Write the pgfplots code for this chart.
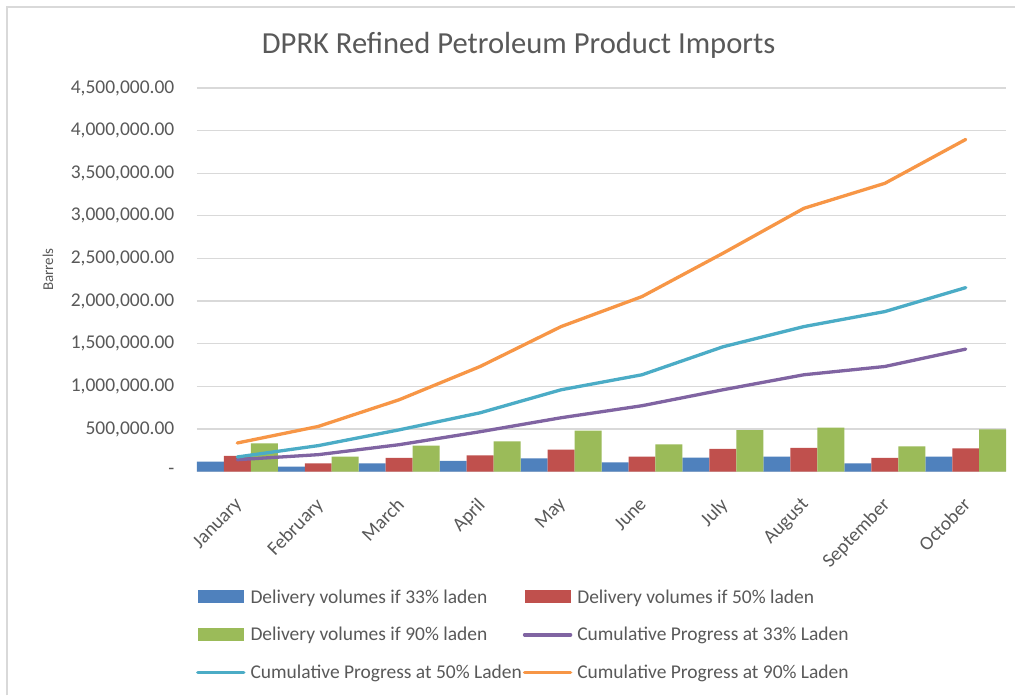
\documentclass[border=0pt]{standalone}
\usepackage{pgfplots}
\pgfplotsset{compat=1.18}
\usepackage{fontspec}
\setmainfont{Carlito}
\definecolor{cblue}{HTML}{4F81BD}
\definecolor{cred}{HTML}{C0504D}
\definecolor{cgreen}{HTML}{9BBB59}
\definecolor{cpurple}{HTML}{8064A2}
\definecolor{ccyan}{HTML}{4BACC6}
\definecolor{corange}{HTML}{F79646}
\definecolor{txt}{HTML}{595959}
\definecolor{gridc}{HTML}{D9D9D9}
\pgfplotsset{
  barleg/.style={legend image code/.code={\fill[##1] (0pt,-6pt) rectangle (46pt,7pt);}},
  lineleg/.style={legend image code/.code={\draw[##1, line width=3.5pt] (0pt,0pt) -- (46pt,0pt);}},
}
\begin{document}
\begin{tikzpicture}
\path[fill=white] (0,0) rectangle (1016pt,696pt);
\draw[gridc, line width=1.6pt] (7pt,0pt) -- (7pt,689pt) -- (1016pt,689pt);
\begin{axis}[
  at={(197pt,224pt)}, anchor=south west,
  scale only axis, width=810pt, height=384pt,
  xmin=-0.5, xmax=9.5, ymin=0, ymax=4500000,
  xtick={0,...,9},
  xticklabels={January,February,March,April,May,June,July,August,September,October},
  ytick={0,500000,1000000,1500000,2000000,2500000,3000000,3500000,4000000,4500000},
  yticklabels={{-},{500,000.00},{1,000,000.00},{1,500,000.00},{2,000,000.00},{2,500,000.00},{3,000,000.00},{3,500,000.00},{4,000,000.00},{4,500,000.00}},
  scaled y ticks=false,
  ymajorgrids, xmajorgrids=false,
  y grid style={draw=gridc, line width=1.2pt},
  axis lines*=left,
  x axis line style={draw=gridc, line width=1.2pt, -},
  y axis line style={draw=none},
  major tick length=0pt,
  tick style={draw=none},
  yticklabel style={font=\fontsize{19.5}{22}\selectfont, text=txt, anchor=east, xshift=-19pt},
  xticklabel style={font=\fontsize{19.5}{22}\selectfont, text=txt, rotate=46, anchor=north east, xshift=-17pt, yshift=-11pt},
  ylabel={Barrels},
  ylabel style={font=\fontsize{15}{18}\selectfont, text=txt, at={(axis description cs:-0.184,0.526)}, anchor=center},
  legend columns=2,
  legend cell align=left,
  legend style={draw=none, at={(axis description cs:0,0)}, anchor=north west, yshift=-115pt, xshift=-4pt,
    font=\fontsize{19.5}{23}\selectfont, text=txt, row sep=20.5pt,
    /tikz/every odd column/.append style={column sep=4pt},
    nodes={inner xsep=1pt, inner ysep=1pt}},
]
\addplot[ybar, bar width=27pt, bar shift=-27pt, fill=cblue, draw=none, barleg] coordinates {(0,117000)(1,59000)(2,98000)(3,125000)(4,156000)(5,109000)(6,164000)(7,176000)(8,98000)(9,176000)};
\addlegendentry{Delivery volumes if 33\% laden}
\addplot[ybar, bar width=27pt, bar shift=0pt, fill=cred, draw=none, barleg] coordinates {(0,184000)(1,98000)(2,160000)(3,191000)(4,258000)(5,176000)(6,266000)(7,278000)(8,160000)(9,273000)};
\addlegendentry{Delivery volumes if 50\% laden}
\addplot[ybar, bar width=27pt, bar shift=27pt, fill=cgreen, draw=none, barleg] coordinates {(0,332000)(1,176000)(2,305000)(3,355000)(4,480000)(5,320000)(6,488000)(7,515000)(8,296000)(9,496000)};
\addlegendentry{Delivery volumes if 90\% laden}
\addplot[cpurple, line width=3.3pt, line join=round, line cap=round, mark=none, lineleg] coordinates {(0,140000)(1,199000)(2,316000)(3,468000)(4,632000)(5,773000)(6,960000)(7,1136000)(8,1233000)(9,1437000)};
\addlegendentry{Cumulative Progress at 33\% Laden}
\addplot[ccyan, line width=3.3pt, line join=round, line cap=round, mark=none, lineleg] coordinates {(0,172000)(1,305000)(2,490000)(3,690000)(4,960000)(5,1136000)(6,1464000)(7,1701000)(8,1877000)(9,2158000)};
\addlegendentry{Cumulative Progress at 50\% Laden}
\addplot[corange, line width=3.3pt, line join=round, line cap=round, mark=none, lineleg] coordinates {(0,336000)(1,530000)(2,843000)(3,1233000)(4,1701000)(5,2053000)(6,2561000)(7,3088000)(8,3381000)(9,3896000)};
\addlegendentry{Cumulative Progress at 90\% Laden}
\end{axis}
\node[font=\fontsize{30.6}{34}\selectfont, text=txt] at (519pt,651pt) {DPRK Refined Petroleum Product Imports};
\end{tikzpicture}
\end{document}
